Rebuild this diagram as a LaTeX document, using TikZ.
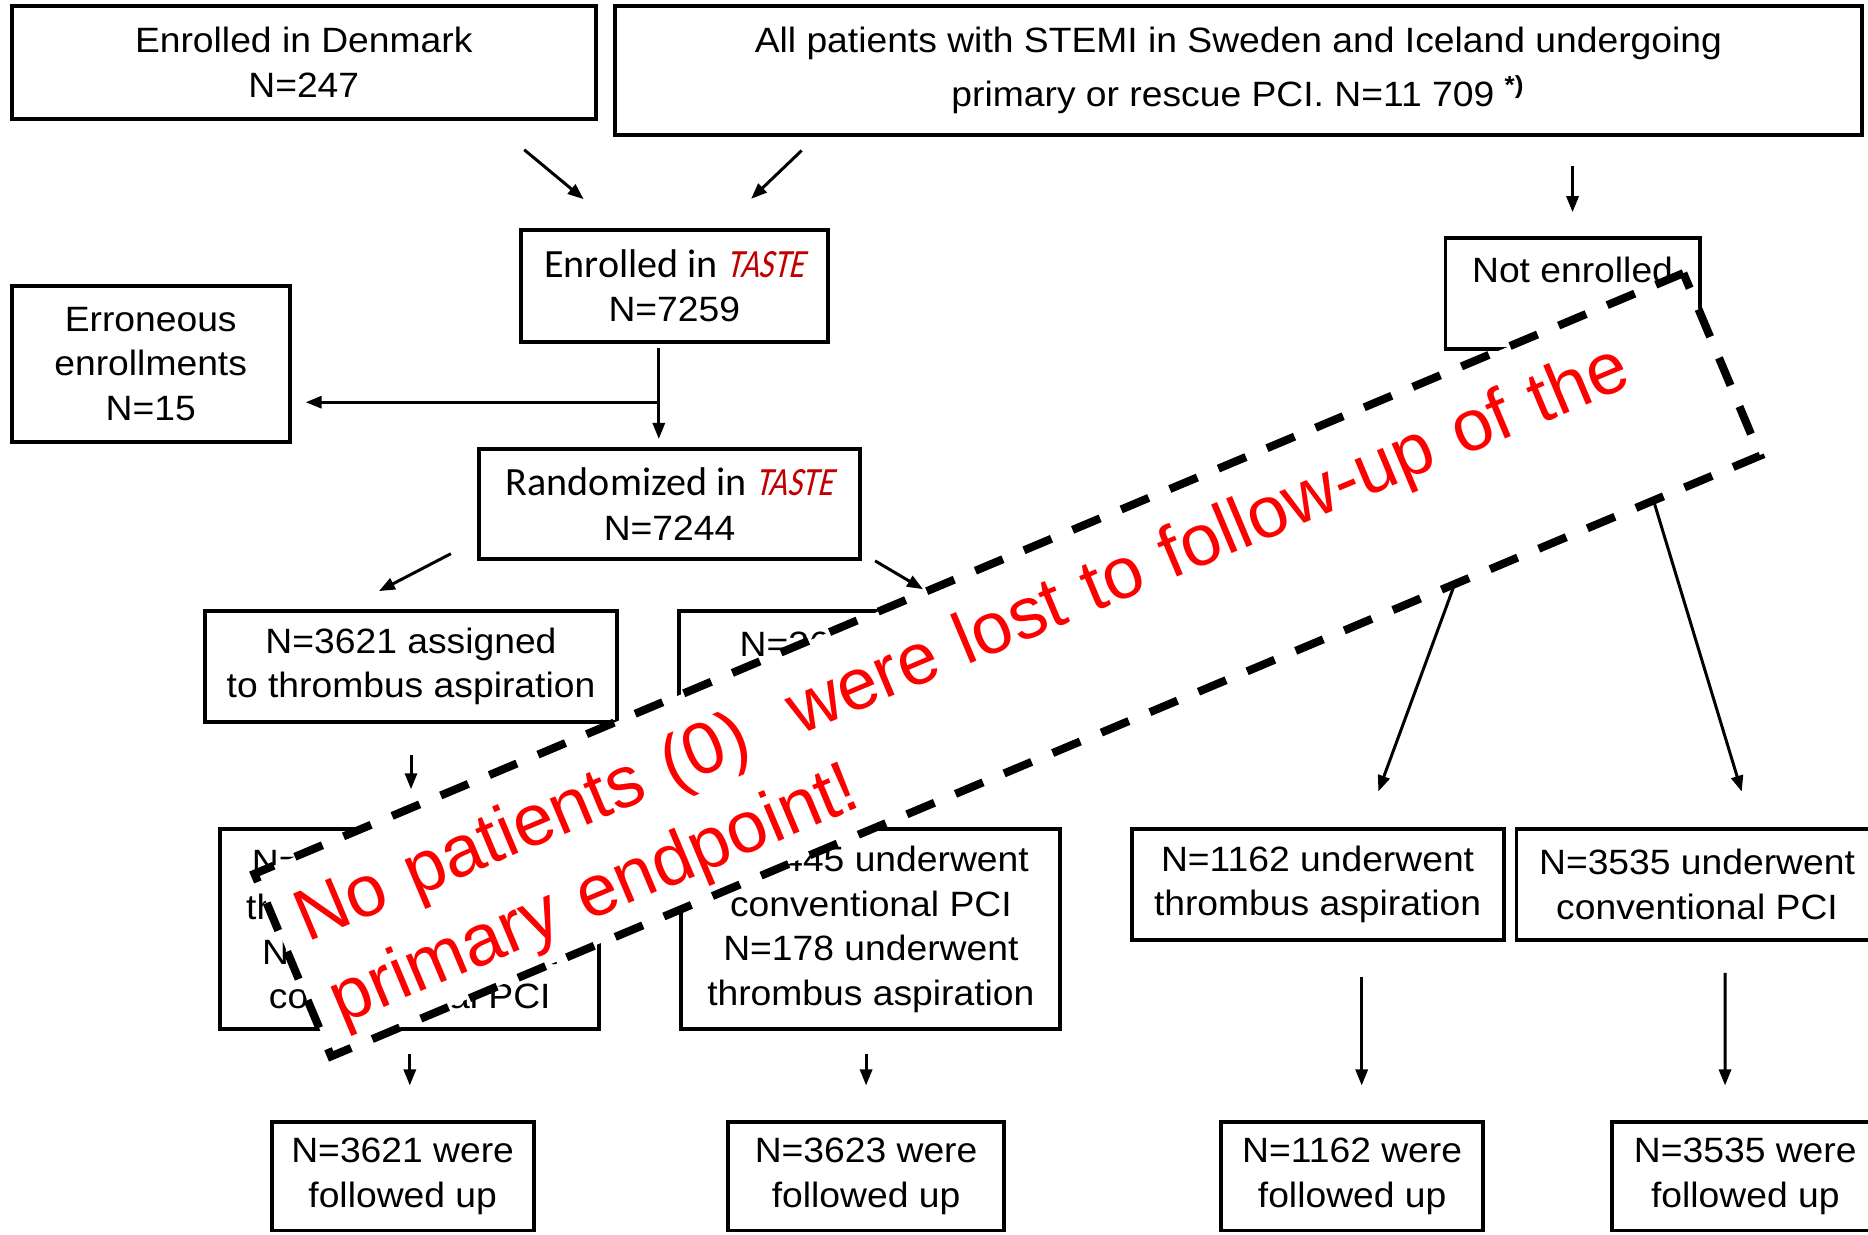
\documentclass[tikz,border=0pt]{standalone}
\usepackage{fontspec}
\setmainfont{Liberation Sans}[FakeStretch=1.06]
\newfontfamily\warnfont{Liberation Sans}
\newfontfamily\carlito{Carlito}
\newfontfamily\tastefont{Carlito}[FakeSlant=0.3]
\usepackage{graphicx}
\usetikzlibrary{calc,arrows.meta}
\definecolor{tastered}{RGB}{192,0,0}
\newcommand{\taste}{\textcolor{tastered}{\scalebox{0.8}[1]{\tastefont TASTE}}}
\newcommand{\calline}[1]{{\carlito\fontsize{11.4}{12.7}\selectfont #1}}

\tikzset{
  box/.style={draw, line width=1.1pt, align=center, inner sep=0pt,
    font=\fontsize{10}{12.7}\selectfont},
  warn/.style={draw, fill=white, line width=2.3pt, dash pattern=on 8.5pt off 6.5pt,
    text=red, align=left, text width=151.6mm, inner xsep=1.7mm, inner ysep=0pt,
    minimum height=19.8mm, font=\warnfont\fontsize{20.7}{25.4}\selectfont}
}

\begin{document}
\begin{tikzpicture}[x=0.11913mm, y=-0.11913mm, >={Triangle[length=1.6mm,width=1.2mm]}, line width=0.85pt]
\useasboundingbox (0,0) rectangle (1568,1036);

\node[box, minimum width=58.4mm, minimum height=11.3mm] (dk) at (255,52.5) {Enrolled in Denmark\\N=247};
\node[box, minimum width=124.7mm, minimum height=12.9mm] (swe) at (1039.5,59)
  {All patients with STEMI in Sweden and Iceland undergoing\\[2.5pt]
   primary or rescue PCI. N=11 709 \textsuperscript{\bfseries *)}};
\node[box, minimum width=30.7mm, minimum height=11.2mm] (enr) at (566,240) {\calline{Enrolled in \taste}\\N=7259};
\node[box, minimum width=25.4mm, minimum height=11.1mm] (not) at (1320,246.5) {\raisebox{-0.6ex}{Not enrolled}\\\strut};
\node[box, minimum width=27.8mm, minimum height=15.6mm] (err) at (126.5,305.5) {Erroneous\\enrollments\\N=15};
\node[box, minimum width=38.1mm, minimum height=11mm] (rnd) at (562,423) {\calline{Randomized in \taste}\\N=7244};

\node[box, minimum width=41.2mm, minimum height=11.1mm] (la) at (345,559.5) {N=3621 assigned\\to thrombus aspiration};
\node[box, minimum width=41.2mm, minimum height=11.1mm] (ma) at (743,559.5) {N=3623 assigned\\to conventional PCI};
\node[box, minimum width=37.9mm, minimum height=20mm] (lu) at (344,780)
  {N=\phantom{0000} underwent\\thrombus aspiration\\N=\phantom{000} underwent\\conventional PCI};
\node[box, minimum width=37.9mm, minimum height=20mm] (mu) at (731,780)
  {N=3445 underwent\\conventional PCI\\N=178 underwent\\thrombus aspiration};
\node[box, minimum width=37.2mm, minimum height=11.1mm] (ra) at (1106,742.5) {N=1162 underwent\\thrombus aspiration};
\node[box, minimum width=36.1mm, minimum height=11.1mm] (rc) at (1424.5,742.5) {N=3535 underwent\\conventional PCI};

\node[box, minimum width=26.2mm, minimum height=10.8mm] (lf) at (338,987.5) {N=3621 were\\followed up};
\node[box, minimum width=27.6mm, minimum height=10.8mm] (mf) at (727,987.5) {N=3623 were\\followed up};
\node[box, minimum width=26.2mm, minimum height=10.8mm] (raf) at (1135,987.5) {N=1162 were\\followed up};
\node[box, minimum width=26.7mm, minimum height=10.8mm] (rcf) at (1465,987.5) {N=3535 were\\followed up};

\draw[->, shorten <=4.5mm, shorten >=4.5mm] ($(dk.south)+(156,0)$) -- ($(enr.north)+(-47,0)$);
\draw[->, shorten <=2mm, shorten >=4.2mm] ($(swe.south)+(-354.5,0)$) -- ($(enr.north)+(39,0)$);
\draw[->, shorten <=2.9mm, shorten >=2.4mm] (not.north |- swe.south) -- (not.north);

\draw[->, shorten <=0.4mm, shorten >=0.8mm] ($(enr.south)+(-13,0)$) -- ($(rnd.north)+(-9,0)$);
\coordinate (split) at ($(enr.south)+(-13,49)$);
\draw[->, shorten >=1.4mm] (split) -- (err.east |- split);

\draw[->, shorten >=3.9mm] ($(rnd.south west)+(-22,-6)$) -- ($(la.north)+(-56,0)$);
\draw[->, shorten >=3.9mm] ($(rnd.south east)+(11,0)$) -- ($(ma.north)+(60,0)$);
\draw[->, shorten <=3.1mm, shorten >=3.8mm] (la.south) -- (la.south |- lu.north);
\draw[->, shorten <=2.3mm, shorten >=3.5mm] (lu.south) -- (lu.south |- lf.north);
\draw[->, shorten <=2.3mm, shorten >=3.5mm] (mf.north |- mu.south) -- (mf.north);

\draw[->, shorten >=3.8mm] ($(not.south)+(-27,0)$) -- ($(ra.north)+(40,0)$);
\draw[->, shorten >=3.7mm] ($(not.south)+(30,0)$) -- ($(rc.north)+(46.5,0)$);
\draw[->, shorten <=3.5mm, shorten >=3.5mm] ($(ra.south)+(37,0)$) -- ($(raf.north)+(8,0)$);
\draw[->, shorten <=3.1mm, shorten >=3.5mm] ($(rc.south)+(23.5,0)$) -- ($(rcf.north)+(-17,0)$);

\node[warn, rotate=22.8] (lost) at (845.5,558)
  {\rule{0pt}{7.4mm}\hspace*{0.5mm}No patients (0)~ were lost to follow-up of the\\\hspace*{0.5mm}primary endpoint!};

\end{tikzpicture}
\end{document}
